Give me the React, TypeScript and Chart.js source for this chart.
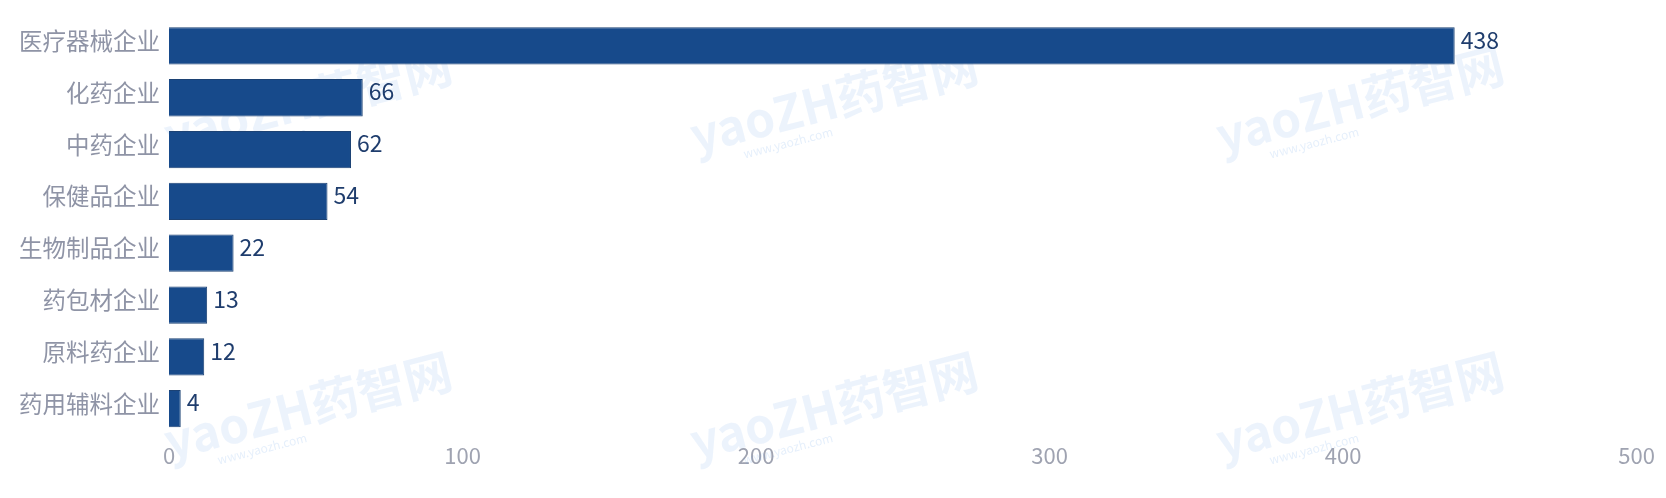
import React, { useEffect, useRef } from "react";
import { Chart, registerables } from "chart.js";

Chart.register(...registerables);

const categories = ["医疗器械企业", "化药企业", "中药企业", "保健品企业", "生物制品企业", "药包材企业", "原料药企业", "药用辅料企业"];
const counts = [438, 66, 62, 54, 22, 13, 12, 4];
const xTicks = [0, 100, 200, 300, 400, 500];

const FONT = "'Noto Sans CJK SC', 'Noto Sans', sans-serif";

const valueLabels = {
  id: "valueLabels",
  afterDatasetsDraw(chart: any) {
    const ctx = chart.ctx;
    const meta = chart.getDatasetMeta(0);
    ctx.save();
    ctx.font = `23px ${FONT}`;
    ctx.fillStyle = "#1f3d6d";
    ctx.textAlign = "left";
    ctx.textBaseline = "middle";
    meta.data.forEach((bar: any, i: number) => {
      ctx.fillText(String(counts[i]), bar.x + 6, bar.y - 6);
    });
    ctx.restore();
  },
};

const watermark = {
  id: "watermark",
  beforeDatasetsDraw(chart: any) {
    const ctx = chart.ctx;
    const spots = [
      [300, 92], [826, 92], [1352, 92],
      [300, 398], [826, 398], [1352, 398],
    ];
    ctx.save();
    spots.forEach(([x, y]) => {
      ctx.save();
      ctx.translate(x, y);
      ctx.rotate(-0.25);
      ctx.textAlign = "center";
      ctx.textBaseline = "middle";
      ctx.font = `bold 48px ${FONT}`;
      ctx.fillStyle = "rgba(70,140,225,0.10)";
      ctx.fillText("yaoZH药智网", 0, 0);
      ctx.font = `12px ${FONT}`;
      ctx.fillStyle = "rgba(70,140,225,0.14)";
      ctx.fillText("www.yaozh.com", -55, 30);
      ctx.restore();
    });
    ctx.restore();
  },
};

export default function App() {
  const ref = useRef<HTMLCanvasElement | null>(null);
  useEffect(() => {
    if (!ref.current) return;
    const chart = new Chart(ref.current, {
      type: "bar",
      data: {
        labels: categories,
        datasets: [
          {
            data: counts,
            backgroundColor: "#174a8b",
            borderColor: "#1c4274",
            borderWidth: 1,
          },
        ],
      },
      options: {
        indexAxis: "y",
        animation: false,
        responsive: true,
        maintainAspectRatio: false,
        layout: { padding: { top: 12, right: 21, bottom: 18, left: 0 } },
        plugins: {
          legend: { display: false },
          tooltip: { enabled: false },
        },
        scales: {
          x: {
            min: 0,
            max: 500,
            afterBuildTicks: (s: any) => {
              s.ticks = xTicks.map((v) => ({ value: v }));
            },
            grid: { display: false, drawTicks: true, tickLength: 5 },
            border: { display: false },
            ticks: { color: "#9fa3b1", font: { size: 22, family: FONT }, padding: 3 },
          },
          y: {
            afterFit: (s: any) => {
              s.width = 161;
              s.paddingTop = 0;
              s.paddingBottom = 0;
            },
            grid: { display: false, tickLength: 6 },
            border: { display: false },
            ticks: { color: "#8f94a6", font: { size: 23.5, family: FONT }, labelOffset: -5 },
          },
        },
      },
      plugins: [watermark, valueLabels],
    });
    return () => chart.destroy();
  }, []);
  return (
    <div style={{ width: "100%", height: 482, position: "relative" }}>
      <canvas ref={ref} />
    </div>
  );
}
